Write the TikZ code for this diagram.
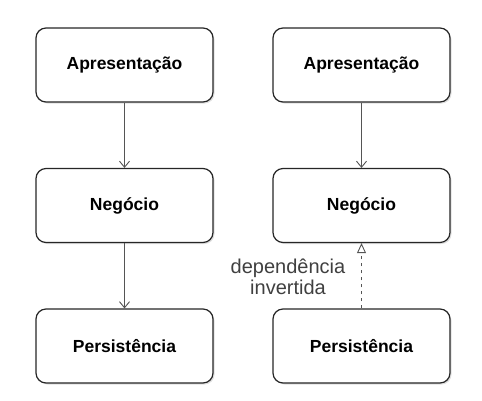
\documentclass[tikz,border=0pt]{standalone}
\usepackage{fontspec}
\setmainfont{Liberation Sans}
\usepackage{tikz}
\usetikzlibrary{arrows.meta, positioning, shadows}
\usepackage{xcolor}
\definecolor{linegray}{RGB}{85,85,85}
\definecolor{textgray}{RGB}{64,64,64}
\tikzset{%
	layer box/.style={
		rectangle,
		draw=black!85,
		line width=1.2pt,
		rounded corners=10pt,
		fill=white,
		minimum width=177pt,
		minimum height=74pt,
		font=\fontsize{17.5}{20}\selectfont\bfseries,
		drop shadow={shadow xshift=1.5pt, shadow yshift=-1.5pt, opacity=0.25}
	},
	uses/.style={
		draw=linegray,
		line width=0.9pt,
		-{Straight Barb[length=6pt,width=10pt]}
	},
	inverted/.style={
		draw=linegray,
		line width=0.9pt,
		dash pattern=on 3pt off 4pt,
		-{Triangle[open,length=10pt,width=9pt,line width=0.9pt]}
	},
}
\begin{document}
\begin{tikzpicture}[x=1pt, y=-1pt]
			
			% Page frame
			\useasboundingbox (0,0) rectangle (482,400);
			
			% Classic layers
			\node[layer box] (apresL) at (124.5,65) {Apresenta\c{c}\~ao};
			\node[layer box] (negocL) at (124.5,205.5) {Neg\'ocio};
			\node[layer box] (persiL) at (124.5,346) {Persist\^encia};
			
			% Inverted layers
			\node[layer box] (apresR) at (361.5,65) {Apresenta\c{c}\~ao};
			\node[layer box] (negocR) at (361.5,205.5) {Neg\'ocio};
			\node[layer box] (persiR) at (361.5,346) {Persist\^encia};
			
			% Dependencies
			\draw[uses] (apresL) -- (negocL);
			\draw[uses] (negocL) -- (persiL);
			\draw[uses] (apresR) -- (negocR);
			\draw[inverted] (persiR) -- (negocR);
			
			% Label
			\node[text=textgray, align=center, font=\fontsize{20}{21}\selectfont] (inv) at (288,277) {depend\^encia\\invertida};
			
		\end{tikzpicture}
\end{document}
